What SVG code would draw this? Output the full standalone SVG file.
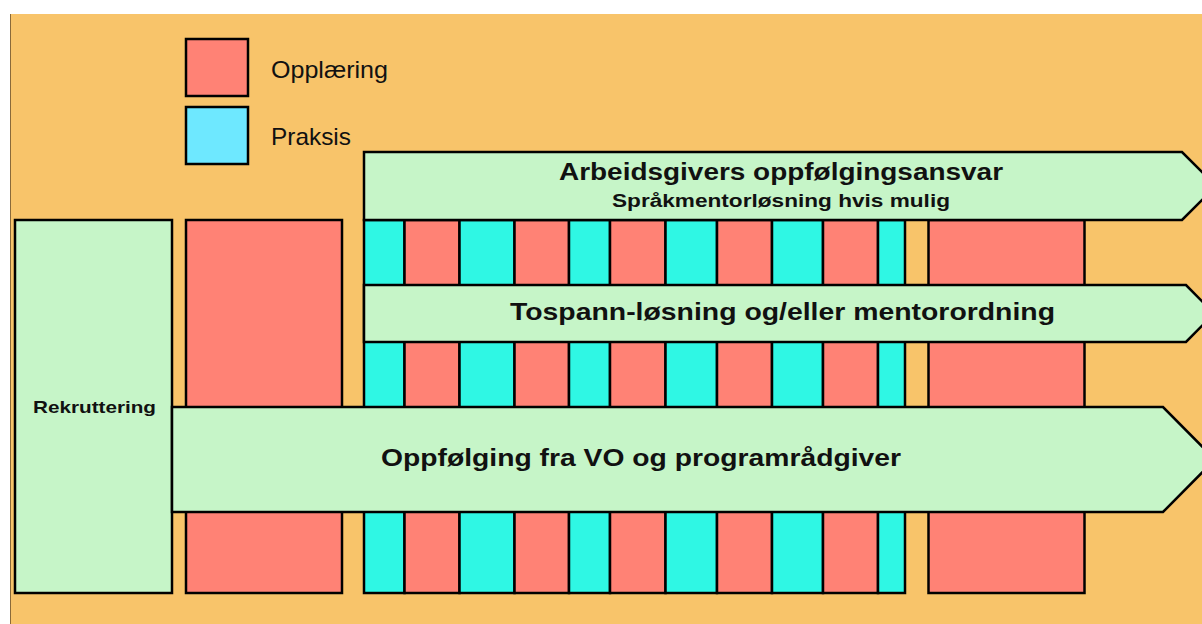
<svg xmlns="http://www.w3.org/2000/svg" width="1202" height="624" viewBox="0 0 1202 624">
<style>
.bx{stroke:#000;stroke-width:2.5}
.r{fill:#FF8275}
.c{fill:#2FF7E4}
.g{fill:#C6F5C8}
.t{font-family:"Liberation Sans",Arial,sans-serif;font-weight:bold;fill:#111;text-anchor:middle}
.l{font-family:"Liberation Sans",Arial,sans-serif;fill:#111;font-size:24px}
</style>
<rect x="0" y="0" width="1202" height="624" fill="#fff"/>
<rect x="10" y="14" width="1192" height="610" fill="#F8C46A"/>
<line x1="10.5" y1="14" x2="10.5" y2="624" stroke="#8a6a3a" stroke-width="1"/>
<g id="legend">
<rect class="bx r" x="186" y="39" width="62" height="57"/>
<rect class="bx" fill="#6EE8FF" x="186" y="107" width="62" height="57"/>
<text class="l" x="271" y="78" textLength="117" lengthAdjust="spacingAndGlyphs">Opplæring</text>
<text class="l" x="271" y="145" textLength="80" lengthAdjust="spacingAndGlyphs">Praksis</text>
</g>
<g id="rekruttering">
<rect class="bx g" x="15" y="220" width="157" height="373"/>
<text class="t" x="94.5" y="413" font-size="17" textLength="123" lengthAdjust="spacingAndGlyphs">Rekruttering</text>
</g>
<g id="stripes">
<rect class="bx r" x="186" y="220" width="156" height="373"/>
<rect class="bx c" x="364" y="220" width="40.5" height="373"/>
<rect class="bx r" x="404.5" y="220" width="55" height="373"/>
<rect class="bx c" x="459.5" y="220" width="55" height="373"/>
<rect class="bx r" x="514.5" y="220" width="54.5" height="373"/>
<rect class="bx c" x="569" y="220" width="41" height="373"/>
<rect class="bx r" x="610" y="220" width="55.5" height="373"/>
<rect class="bx c" x="665.5" y="220" width="51.5" height="373"/>
<rect class="bx r" x="717" y="220" width="55" height="373"/>
<rect class="bx c" x="772" y="220" width="51" height="373"/>
<rect class="bx r" x="823" y="220" width="55" height="373"/>
<rect class="bx c" x="878" y="220" width="27" height="373"/>
<rect class="bx r" x="928.5" y="220" width="156" height="373"/>
</g>
<g id="arbeidsgiver">
<polygon class="bx g" points="364,152 1182,152 1216,186 1182,220 364,220"/>
<text class="t" x="781" y="180" font-size="23" textLength="444" lengthAdjust="spacingAndGlyphs">Arbeidsgivers oppfølgingsansvar</text>
<text class="t" x="781" y="207" font-size="17.5" textLength="338" lengthAdjust="spacingAndGlyphs">Språkmentorløsning hvis mulig</text>
</g>
<g id="tospann">
<polygon class="bx g" points="364,285 1186,285 1214,313.5 1186,342 364,342"/>
<text class="t" x="782.5" y="320" font-size="24" textLength="545" lengthAdjust="spacingAndGlyphs">Tospann-løsning og/eller mentorordning</text>
</g>
<g id="oppfolging">
<polygon class="bx g" points="172,407 1163,407 1215,459.5 1163,512 172,512"/>
<text class="t" x="641" y="466" font-size="24" textLength="520" lengthAdjust="spacingAndGlyphs">Oppfølging fra VO og programrådgiver</text>
</g>
<g id="connectors"></g>
</svg>
